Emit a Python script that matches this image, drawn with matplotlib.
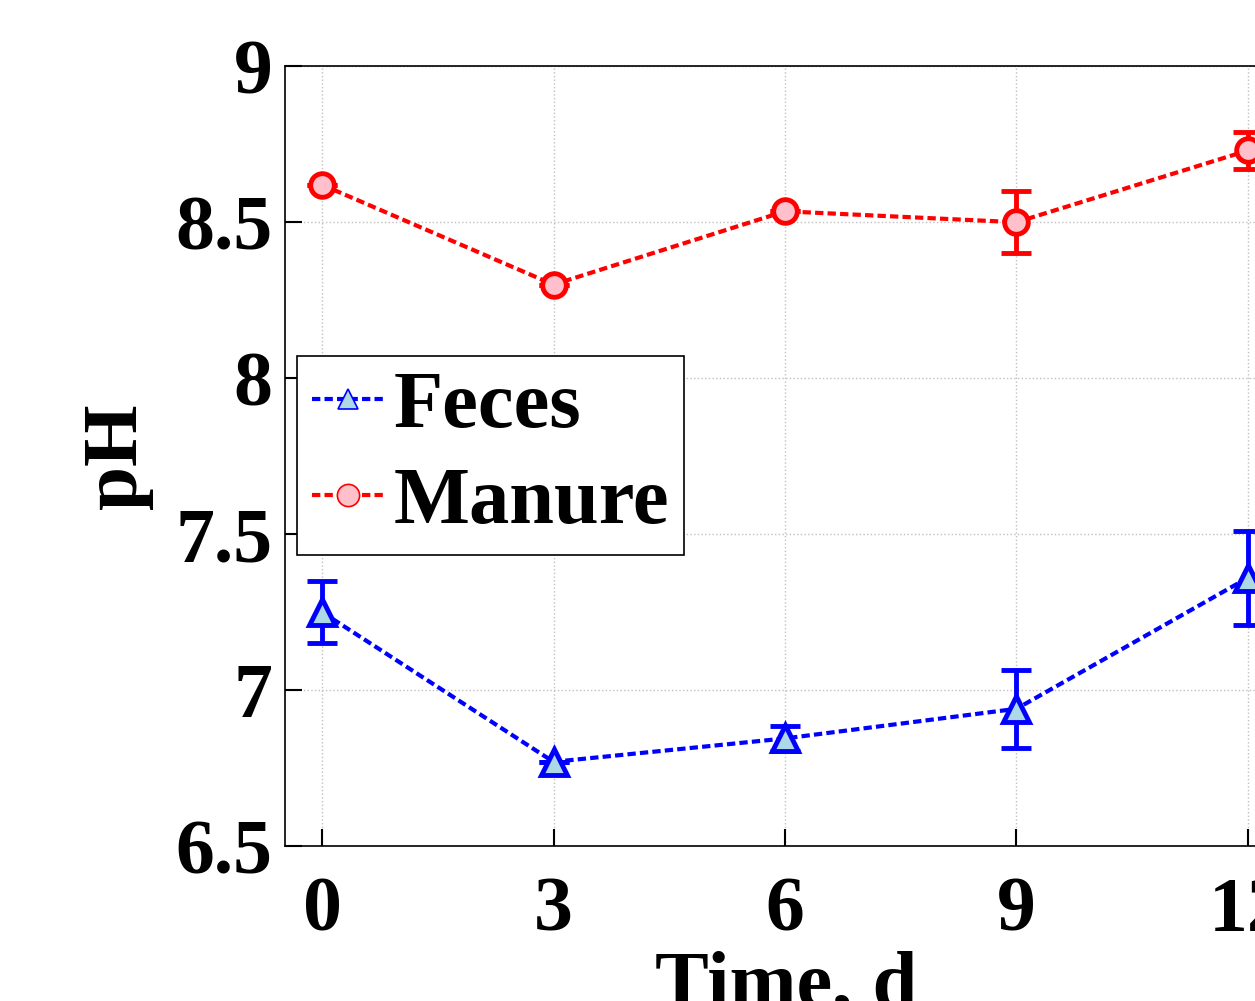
import matplotlib
matplotlib.use('Agg')
import matplotlib.pyplot as plt
from matplotlib.lines import Line2D

days = [0, 3, 6, 9, 12]
feces = [7.25, 6.77, 6.845, 6.94, 7.36]
feces_err = [0.10, 0.0, 0.04, 0.125, 0.15]
manure = [8.62, 8.30, 8.535, 8.50, 8.73]
manure_err = [0.0, 0.0, 0.0, 0.10, 0.06]

yticks = [6.5, 7, 7.5, 8, 8.5, 9]
yticklabels = ['6.5', '7', '7.5', '8', '8.5', '9']

plt.rcParams['font.family'] = 'Liberation Serif'
plt.rcParams['font.weight'] = 'bold'

fig = plt.figure(figsize=(12.55, 10.01), dpi=100)
ax = fig.add_axes([0.2271, 0.1548, 0.798, 0.779])

dash = (0, (2, 1))
ax.errorbar(days, feces, yerr=feces_err, color='blue', ls=dash, lw=3,
            marker='^', ms=19, mfc='#add8e6', mec='blue', mew=3.5,
            elinewidth=3.5, capsize=11, capthick=3.5, zorder=3)
ax.errorbar(days, manure, yerr=manure_err, color='red', ls=dash, lw=3,
            marker='o', ms=17, mfc='#ffc0cb', mec='red', mew=3.5,
            elinewidth=3.5, capsize=11, capthick=3.5, zorder=3)

ax.set_xlim(-0.48, 12.5)
ax.set_ylim(6.5, 9)
ax.set_xticks(days)
ax.set_yticks(yticks)
ax.set_yticklabels(yticklabels)
ax.tick_params(direction='in', length=12, width=1.5, labelsize=56)
ax.tick_params(axis='x', pad=22)
ax.tick_params(axis='y', pad=9)
ax.grid(True, ls=':', color='#c0c0c0', lw=1)
for s in ax.spines.values():
    s.set_linewidth(1.2)

ax.set_xlabel('Time, d', fontsize=58, fontweight='bold', labelpad=2)
ax.set_ylabel('pH', fontsize=57, fontweight='bold', labelpad=16)

handles = [
    Line2D([], [], color='blue', ls=dash, lw=3, marker='^', ms=14,
           mfc='#add8e6', mec='blue', mew=1.2),
    Line2D([], [], color='red', ls=dash, lw=3, marker='o', ms=16,
           mfc='#ffc0cb', mec='red', mew=1.2),
]
leg = ax.legend(handles, ['Feces', 'Manure'], loc='upper left',
                bbox_to_anchor=(0.012, 0.628), fontsize=58, fancybox=False,
                framealpha=1, edgecolor='black', borderpad=0.18,
                handlelength=0.9, handletextpad=0.12, labelspacing=0.28,
                borderaxespad=0)
leg.get_frame().set_linewidth(1.2)

fig.savefig('out.png', dpi=100)
